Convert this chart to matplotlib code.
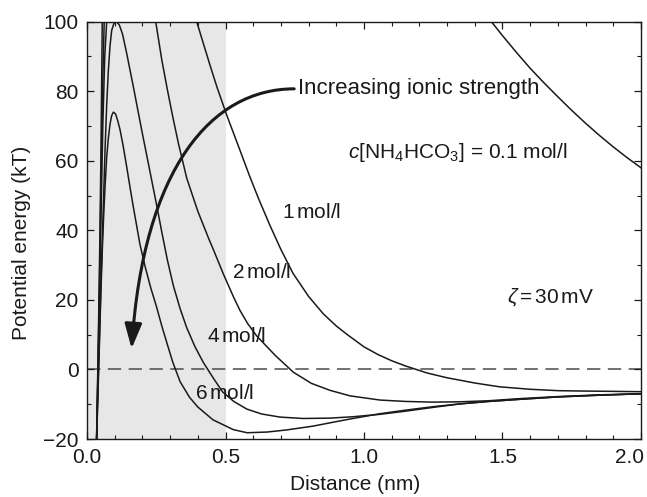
import matplotlib.pyplot as plt
from matplotlib.path import Path
from matplotlib.patches import FancyArrowPatch
from matplotlib.ticker import MultipleLocator
from matplotlib.transforms import ScaledTranslation

plt.rcParams['font.family'] = ['Liberation Sans', 'DejaVu Sans']
plt.rcParams['mathtext.fontset'] = 'custom'
plt.rcParams['mathtext.rm'] = 'Liberation Sans'
plt.rcParams['mathtext.it'] = 'Liberation Sans:italic'

# total interaction energy (kT) vs separation (nm) for each salt concentration
# steep rise at contact and the repulsive tail are kept apart where the barrier is off scale

# 0.1 mol/l
rise_x_01 = [0.034, 0.040, 0.045, 0.050, 0.055, 0.058]
rise_y_01 = [-22, 5, 30, 60, 100, 120]
tail_x_01 = [1.44, 1.46, 1.50, 1.55, 1.60, 1.65, 1.70, 1.75, 1.80, 1.85, 1.90, 1.95, 2.00]
tail_y_01 = [103, 100, 96, 91.2, 86.6, 82.4, 78.4, 74.5, 70.8, 67.3, 64.0, 60.9, 58.0]

# 1 mol/l
rise_x_1 = [0.034, 0.040, 0.045, 0.050, 0.056, 0.062, 0.065]
rise_y_1 = [-22, 2, 25, 50, 80, 100, 112]
tail_x_1 = [0.39, 0.396, 0.444, 0.47, 0.505, 0.55, 0.588, 0.62, 0.66, 0.70, 0.744,
            0.80, 0.853, 0.90, 0.94, 1.0, 1.05, 1.1, 1.15, 1.2, 1.227, 1.3, 1.347,
            1.4, 1.49, 1.6, 1.7, 1.78, 1.9, 2.0]
tail_y_1 = [102, 100, 87.5, 81, 73, 63.5, 55.4, 49, 41.5, 34.5, 27.6,
            21, 16, 12.5, 10, 6.5, 4.3, 2.5, 1.0, -0.3, -1.0, -2.4, -3.1,
            -3.9, -5.0, -5.7, -6.1, -6.2, -6.3, -6.4]

# 2 mol/l
rise_x_2 = [0.034, 0.040, 0.045, 0.050, 0.057, 0.064, 0.071, 0.074]
rise_y_2 = [-22, 0, 20, 42, 70, 90, 100, 106]
tail_x_2 = [0.24, 0.248, 0.27, 0.29, 0.31, 0.33, 0.36, 0.40, 0.44, 0.456, 0.492,
            0.528, 0.552, 0.58, 0.613, 0.68, 0.745, 0.81, 0.877, 0.95, 1.058,
            1.15, 1.25, 1.347, 1.45, 1.56, 1.70, 1.85, 2.0]
tail_y_2 = [103, 100, 89, 80.5, 72.5, 65, 55, 45.5, 37.5, 34.5, 27.5,
            21, 17, 13.2, 9.6, 4, -0.8, -4, -6, -7.6, -8.8,
            -9.2, -9.4, -9.3, -9.0, -8.4, -7.8, -7.3, -7.0]

# 4 mol/l
dist_4 = [0.034, 0.040, 0.045, 0.050, 0.055, 0.060, 0.065, 0.071, 0.077, 0.083,
          0.089, 0.097, 0.107, 0.117, 0.128, 0.143, 0.167, 0.197, 0.227, 0.252,
          0.27, 0.29, 0.312, 0.336, 0.36, 0.39, 0.42, 0.456, 0.49, 0.53, 0.577,
          0.63, 0.697, 0.78, 0.877, 0.96, 1.058, 1.15, 1.25, 1.347, 1.45, 1.56,
          1.70, 1.85, 2.0]
pot_4 = [-22, -4, 10, 24, 37, 50, 63, 76, 86, 93,
         97.5, 99.5, 100, 99, 96.5, 91, 81.4, 69, 57, 47,
         39.5, 31.5, 24, 17.5, 12, 6.5, 2, -2.5, -6.5, -9.2, -11.4,
         -12.8, -13.7, -14.1, -14.0, -13.6, -12.9, -12.0, -10.9, -9.9, -9.2, -8.6,
         -7.9, -7.4, -7.0]

# 6 mol/l
dist_6 = [0.034, 0.040, 0.045, 0.050, 0.055, 0.060, 0.065, 0.071, 0.077, 0.083,
          0.089, 0.095, 0.103, 0.111, 0.119, 0.13, 0.143, 0.155, 0.167, 0.18,
          0.191, 0.21, 0.23, 0.251, 0.27, 0.29, 0.31, 0.336, 0.37, 0.40, 0.455,
          0.528, 0.578, 0.65, 0.72, 0.816, 0.9, 0.96, 1.06, 1.15, 1.25, 1.347,
          1.45, 1.56, 1.70, 1.85, 2.0]
pot_6 = [-22, -6, 8, 22, 34, 44, 52.5, 61, 66.5, 70.5,
         73, 74, 73.5, 71.5, 69, 64.5, 58.4, 52.5, 46.8, 41,
         36, 29.5, 23.5, 18, 12.5, 7.2, 2, -3.5, -8, -10.8, -14.5,
         -17.3, -18.2, -18.0, -17.4, -16.3, -15.0, -14.1, -12.7, -11.7, -10.7, -9.9,
         -9.2, -8.6, -7.9, -7.4, -7.0]

conc_labels = [r'1$\,$mol/l', r'2$\,$mol/l', r'4$\,$mol/l', r'6$\,$mol/l']
label_x = [0.704, 0.523, 0.433, 0.39]
label_y = [45, 28, 9.6, -6.8]

ink = '0.1'

fig = plt.figure(figsize=(6.47, 4.97), dpi=100)
ax = fig.add_axes([0.1345, 0.1167, 0.8562, 0.8396])

# shaded short-range region
ax.axvspan(0, 0.5, color='#e7e7e7', lw=0, zorder=0)
ax.axhline(0, color='0.35', lw=1.2, ls=(0, (8, 4.5)), zorder=1)

for xs, ys in [(rise_x_01, rise_y_01), (tail_x_01, tail_y_01),
               (rise_x_1, rise_y_1), (tail_x_1, tail_y_1),
               (rise_x_2, rise_y_2), (tail_x_2, tail_y_2),
               (dist_4, pot_4), (dist_6, pot_6)]:
    ax.plot(xs, ys, color=ink, lw=1.1, zorder=2)

for txt, lx, ly in zip(conc_labels, label_x, label_y):
    ax.text(lx, ly, txt, fontsize=15, ha='left', va='center', color=ink)

# curved arrow pointing towards higher ionic strength
arrow_path = Path([(0.748, 80.7), (0.45, 80.7), (0.205, 58), (0.161, 6.0)],
                  [Path.MOVETO, Path.CURVE4, Path.CURVE4, Path.CURVE4])
arrow = FancyArrowPatch(path=arrow_path, arrowstyle='-|>,head_length=15,head_width=5.2',
                        mutation_scale=1, lw=2.2, color=ink, zorder=3)
ax.add_patch(arrow)
ax.text(0.762, 80.7, 'Increasing ionic strength', fontsize=16, ha='left', va='center', color=ink)

ax.text(0.942, 62.3, r'$c$[NH$_4$HCO$_3$] = 0.1 mol/l', fontsize=15, ha='left', va='center', color=ink)
ax.text(1.516, 20.9, r'$\zeta\,$=$\,$30$\,$mV', fontsize=15, ha='left', va='center', color=ink)

ax.set_xlim(0, 2)
ax.set_ylim(-20, 100)
ax.xaxis.set_major_locator(MultipleLocator(0.5))
ax.xaxis.set_minor_locator(MultipleLocator(0.1))
ax.yaxis.set_major_locator(MultipleLocator(20))
ax.yaxis.set_minor_locator(MultipleLocator(10))
ax.xaxis.set_major_formatter(plt.FormatStrFormatter('%.1f'))
ax.tick_params(which='both', direction='in', top=True, right=True, labelsize=15,
               colors=ink)
ax.tick_params(which='major', length=5, width=0.9)
ax.tick_params(which='minor', length=3, width=0.8)
ax.tick_params(axis='x', pad=6.5)
ax.tick_params(axis='y', pad=6)
for s in ax.spines.values():
    s.set_linewidth(1.0)
    s.set_color(ink)

ax.set_xlabel('Distance (nm)', fontsize=15, labelpad=6, color=ink, x=0.484)
ax.set_ylabel('Potential energy (kT)', fontsize=15, labelpad=9, color=ink, y=0.47)

# nudge the "2.0" label left so it stays inside the figure
fig.canvas.draw()
for lab in ax.get_xticklabels():
    if lab.get_text() == '2.0':
        lab.set_transform(lab.get_transform() + ScaledTranslation(-8 / 72, 0, fig.dpi_scale_trans))

fig.savefig('out.png', dpi=100)
